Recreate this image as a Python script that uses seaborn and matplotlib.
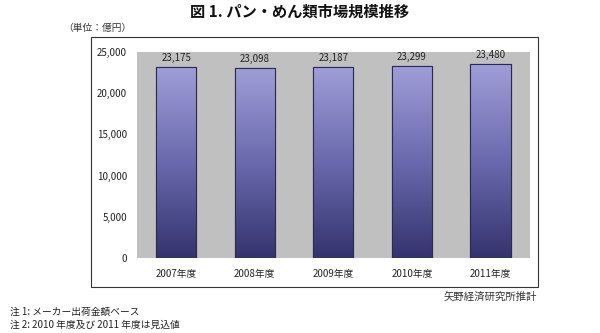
import numpy as np
import pandas as pd
import matplotlib
matplotlib.use("Agg")
import matplotlib.pyplot as plt
import seaborn as sns
from matplotlib.patches import Rectangle
from matplotlib.colors import LinearSegmentedColormap

years = ["2007年度", "2008年度", "2009年度", "2010年度", "2011年度"]
values = [23175, 23098, 23187, 23299, 23480]
yticks = [0, 5000, 10000, 15000, 20000, 25000]

sns.set_theme(style="white")
plt.rcParams['font.family'] = ['Noto Sans CJK JP', 'DejaVu Sans']

df = pd.DataFrame({"year": years, "value": values})

fig = plt.figure(figsize=(6, 3.33), dpi=100)
ax = fig.add_axes([0.228, 0.225, 0.655, 0.619])
sns.barplot(data=df, x="year", y="value", ax=ax, width=0.51, color="#8f8dcf",
            edgecolor="#2a2a55", linewidth=0.8, saturation=1)
ax.set_facecolor("#c0c0c0")
ax.set_ylim(0, 25000)
ax.set_xlim(-0.5, len(years) - 0.5)
ax.set_yticks(yticks)
ax.set_yticklabels([f"{v:,}" for v in yticks], fontsize=7)
ax.set_xticks(np.arange(len(years)))
ax.set_xticklabels(years, fontsize=7)
ax.set_xlabel("")
ax.set_ylabel("")
for s in ax.spines.values():
    s.set_visible(False)
ax.tick_params(axis="y", length=3, direction="in", pad=7, colors="#222222")
ax.tick_params(axis="x", length=0, pad=8, colors="#222222")
# category boundary ticks
ax.set_xticks(np.arange(len(years) - 1) + 0.5, minor=True)
ax.tick_params(axis="x", which="minor", length=3, direction="in", color="#222222")

cmap = LinearSegmentedColormap.from_list("g", ["#34336e", "#6a69ad", "#a09ed8"])
grad = np.linspace(0, 1, 256).reshape(-1, 1)
for p in list(ax.patches):
    x0, y0 = p.get_x(), p.get_y()
    w, h = p.get_width(), p.get_height()
    im = ax.imshow(grad, cmap=cmap, aspect="auto", origin="lower",
                   extent=[x0, x0 + w, y0, y0 + h], zorder=p.get_zorder() + 0.1)
    im.set_clip_path(p)
    edge = Rectangle((x0, y0), w, h, fill=False, edgecolor="#2a2a55", linewidth=0.8,
                     zorder=p.get_zorder() + 0.2)
    ax.add_patch(edge)
ax.set_xlim(-0.5, len(years) - 0.5)
ax.set_ylim(0, 25000)

for i, v in enumerate(values):
    ax.text(i, v + 500, f"{v:,}", ha="center", va="bottom", fontsize=7, color="#222222")

# outer frame
fig.patches.append(Rectangle((0.152, 0.138), 0.745, 0.751, transform=fig.transFigure,
                             fill=False, edgecolor="#333333", linewidth=0.8))

fig.text(0.5, 0.965, "図 1. パン・めん類市場規模推移", ha="center", va="center",
         fontsize=11, fontweight="bold", color="#111111")
fig.text(0.105, 0.915, "（単位：億円）", ha="left", va="center", fontsize=7, color="#333333")
fig.text(0.895, 0.108, "矢野経済研究所推計", ha="right", va="center", fontsize=7.5, color="#333333")
fig.text(0.017, 0.065, "注 1: メーカー出荷金額ベース", ha="left", va="center", fontsize=7, color="#222222")
fig.text(0.017, 0.025, "注 2: 2010 年度及び 2011 年度は見込値", ha="left", va="center", fontsize=7, color="#222222")

fig.savefig("out.png", dpi=100)
